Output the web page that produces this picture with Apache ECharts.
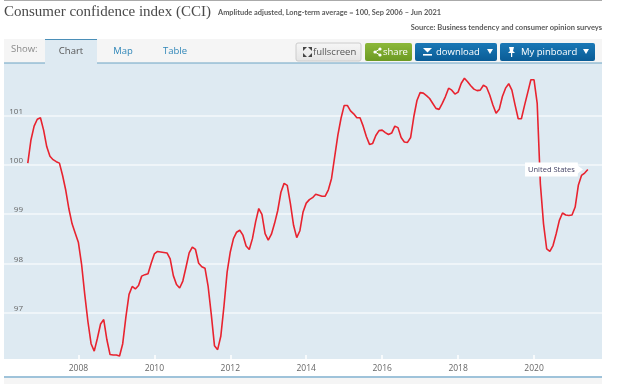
<!DOCTYPE html>
<html><head><meta charset="utf-8">
<style>html,body{margin:0;padding:0;background:#fff}#c{width:624px;height:384px}</style>
<script src="https://cdn.jsdelivr.net/npm/echarts@6/dist/echarts.min.js"></script>
</head><body><div id="c"></div>
<script>
const titleText = 'Consumer confidence index (CCI)';
const subtitleText = 'Amplitude adjusted, Long-term average = 100, Sep 2006 – Jun 2021';
const sourceText = 'Source: Business tendency and consumer opinion surveys';
const seriesName = 'United States';
const yearTicks = [2008, 2010, 2012, 2014, 2016, 2018, 2020];
const valueTicks = [97, 98, 99, 100, 101];
const firstYear = 2006, firstMonth = 8; // Sep 2006, monthly
const cci = [
100.03,100.50,100.78,100.92,100.95,100.70,100.36,100.17,100.10,100.06,100.03,99.78,
99.48,99.10,98.80,98.61,98.42,97.98,97.37,96.82,96.37,96.22,96.48,96.77,
96.86,96.45,96.15,96.14,96.14,96.12,96.37,96.91,97.37,97.53,97.48,97.55,
97.74,97.77,97.79,98.00,98.19,98.24,98.23,98.22,98.21,98.09,97.75,97.57,
97.50,97.64,97.92,98.21,98.33,98.28,98.00,97.93,97.90,97.53,96.96,96.33,
96.25,96.52,97.13,97.82,98.23,98.50,98.63,98.67,98.57,98.35,98.28,98.50,
98.84,99.11,98.99,98.60,98.47,98.59,98.81,99.07,99.44,99.62,99.58,99.21,
98.77,98.52,98.66,99.04,99.22,99.29,99.33,99.40,99.38,99.36,99.36,99.49,
99.72,100.16,100.60,100.94,101.20,101.20,101.09,101.03,100.95,100.95,100.78,100.57,
100.41,100.43,100.59,100.69,100.70,100.65,100.61,100.64,100.78,100.75,100.55,100.46,
100.45,100.55,100.97,101.30,101.46,101.45,101.40,101.34,101.24,101.14,101.12,101.24,
101.38,101.55,101.51,101.43,101.47,101.65,101.75,101.68,101.60,101.53,101.50,101.51,
101.61,101.57,101.41,101.21,101.04,101.12,101.38,101.55,101.64,101.51,101.21,100.93,
100.93,101.20,101.46,101.72,101.72,101.24,99.61,98.80,98.29,98.24,98.36,98.60,
98.87,99.02,98.98,98.97,98.98,99.14,99.58,99.78,99.83,99.90
];
const points = cci.map((v, i) => [firstYear + (firstMonth + i) / 12, v]);

function rect(x, y, w, h, fill, stroke, r) {
  return {type:'rect', silent:true, shape:{x, y, width:w, height:h, r:r||0},
    style:{fill, stroke:stroke||null, lineWidth:stroke?1:0}};
}
function txt(x, y, text, font, fill, align) {
  return {type:'text', silent:true, x, y, style:{text, font, fill, align:align||'left', verticalAlign:'middle'}};
}
function tri(pts, fill) { return {type:'polygon', silent:true, shape:{points:pts}, style:{fill}}; }
function btn(x, y, w, h, top, bottom, stroke) {
  return rect(x, y, w, h, new echarts.graphic.LinearGradient(0,0,0,1,[{offset:0,color:top},{offset:1,color:bottom}]), stroke, 2);
}
const sans = '"Open Sans","Noto Sans",sans-serif';
const chrome = [
  rect(4, 0, 598, 1, '#aaaaaa'),
  txt(4, 12.5, titleText, '15px "Liberation Serif",serif', '#4a4a4a'),
  txt(218, 12.5, subtitleText, 'bold 7.4px Lato,sans-serif', '#5a5a5a'),
  txt(602, 28, sourceText, 'bold 7.5px Lato,sans-serif', '#5a5a5a', 'right'),
  rect(4, 39, 598, 24, '#f5f5f5'),
  rect(4, 62.5, 598, 1, '#6da3c4'),
  rect(45, 39, 52, 25, '#deeaf2'),
  rect(45, 39, 52, 1, '#4b8fb8'),
  txt(11, 49.5, 'Show:', '9.5px '+sans, '#8a8a8a'),
  txt(71, 51.5, 'Chart', '9.5px '+sans, '#555555', 'center'),
  txt(123, 51.5, 'Map', '9.5px '+sans, '#2f86b8', 'center'),
  txt(175, 51.5, 'Table', '9.5px '+sans, '#2f86b8', 'center'),
  btn(296, 43, 65, 18, '#f6f6f6', '#e4e4e4', '#cccccc'),
  tri([[303,47],[307,47],[303,51]], '#444444'), tri([[312,47],[308,47],[312,51]], '#444444'),
  tri([[303,57],[307,57],[303,53]], '#444444'), tri([[312,57],[308,57],[312,53]], '#444444'),
  txt(313, 52, 'fullscreen', '9.5px '+sans, '#555555'),
  btn(365, 43, 47, 18, '#8cb83a', '#6c9a22', null),
  {type:'group', silent:true, children:[
    {type:'circle', silent:true, shape:{cx:375,cy:52,r:1.6}, style:{fill:'#fff'}},
    {type:'circle', silent:true, shape:{cx:380,cy:49,r:1.6}, style:{fill:'#fff'}},
    {type:'circle', silent:true, shape:{cx:380,cy:55,r:1.6}, style:{fill:'#fff'}},
    {type:'polyline', silent:true, shape:{points:[[380,49],[375,52],[380,55]]}, style:{stroke:'#fff',lineWidth:1,fill:null}}
  ]},
  txt(383, 52, 'share', '9.5px '+sans, '#ffffff'),
  btn(415, 43, 82, 18, '#1a78b6', '#0a5c96', null),
  tri([[423,48],[432,48],[427.5,52.5]], '#ffffff'), rect(423, 54, 9, 1.6, '#ffffff'),
  txt(436, 52, 'download', '9.5px '+sans, '#ffffff'),
  tri([[487,49],[493,49],[490,54]], '#ffffff'),
  btn(500, 43, 95, 18, '#1a78b6', '#0a5c96', null),
  tri([[509,47],[514,47],[513,51],[515,53],[508,53],[510,51]], '#ffffff'), rect(511, 53, 1.2, 4, '#ffffff'),
  txt(521, 52, 'My pinboard', '9.5px '+sans, '#ffffff'),
  tri([[583,49],[589,49],[586,54]], '#ffffff'),
  rect(4, 376, 598, 2, '#9fc3da'),
  rect(4, 378, 598, 6, '#f5f5f5'),
  {type:'polygon', silent:true, z:20, shape:{points:[[577,165],[583,169.5],[577,174]]}, style:{fill:'#ffffff'}}
];

const chart = echarts.init(document.getElementById('c'), null, {renderer:'canvas'});
chart.setOption({
  animation:false,
  grid:{left:4, right:22, top:63, bottom:25, show:true, backgroundColor:'#deeaf2', borderWidth:0},
  xAxis:{type:'value', min:2006.04, max:2021.79,
    axisLine:{show:false}, splitLine:{show:false},
    axisTick:{show:true, inside:true, length:4, customValues:yearTicks, lineStyle:{color:'#ffffff', width:1.5}},
    axisLabel:{customValues:yearTicks, formatter:v=>String(Math.round(v)), color:'#666666', fontSize:8.5, fontFamily:'"Open Sans",sans-serif', margin:5, hideOverlap:false}},
  yAxis:{type:'value', min:96.06, max:102.06,
    axisLine:{show:false},
    axisTick:{show:false, customValues:valueTicks},
    splitLine:{show:true, lineStyle:{color:'#f4f8fb', width:1.5}},
    axisLabel:{customValues:valueTicks, inside:true, align:'right', verticalAlign:'bottom', margin:19, color:'#666666', fontSize:8, fontFamily:'"Open Sans",sans-serif', formatter:v=>String(Math.round(v))}},
  series:[{type:'line', name:seriesName, data:points, showSymbol:false, smooth:false, z:5,
    lineStyle:{color:'#e8232f', width:1.6},
    endLabel:{show:true, formatter:seriesName, align:'right', verticalAlign:'middle', offset:[-10,0], distance:0,
      backgroundColor:'#ffffff', padding:[3,3,3,3], color:'#444466', fontSize:7.5, fontFamily:'"Open Sans",sans-serif'}}],
  graphic:{elements:chrome}
});
</script></body></html>
